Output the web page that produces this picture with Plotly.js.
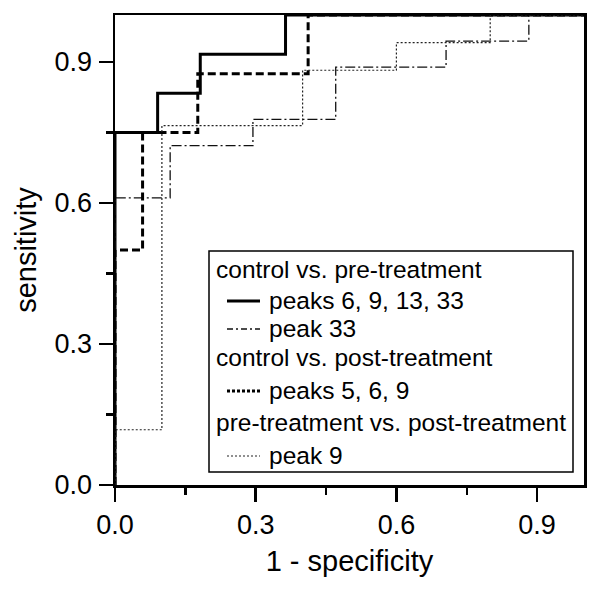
<!DOCTYPE html>
<html>
<head>
<meta charset="utf-8">
<script src="https://cdn.plot.ly/plotly-3.0.1.min.js"></script>
<style>html,body{margin:0;padding:0;background:#fff;}#chart{width:600px;height:589px;}</style>
</head>
<body>
<div id="chart"></div>
<script>
// ROC step breakpoints (drawn with 'hv' steps)
const preSolidX = [0, 0, 0.0909, 0.1818, 0.3636, 1];
const preSolidY = [0, 0.75, 0.8333, 0.9167, 1, 1];
const pre33X = [0, 0, 0.1176, 0.2941, 0.4706, 0.7059, 0.8824, 1];
const pre33Y = [0, 0.6111, 0.7222, 0.7778, 0.8889, 0.9444, 1, 1];
const postX = [0, 0, 0.0588, 0.1765, 0.4118, 1];
const postY = [0, 0.5, 0.75, 0.875, 1, 1];
const prePostX = [0, 0, 0.1, 0.4, 0.6, 0.8, 1];
const prePostY = [0, 0.1176, 0.7647, 0.8824, 0.9412, 1, 1];
const xTicks = [0, 0.3, 0.6, 0.9];
const yTicks = [0, 0.3, 0.6, 0.9];
const groupTitles = ['control vs. pre-treatment', 'control vs. post-treatment', 'pre-treatment vs. post-treatment'];
const seriesNames = ['peaks 6, 9, 13, 33', 'peak 33', 'peaks 5, 6, 9', 'peak 9'];

const FONT = '"Liberation Sans", Arial, sans-serif';
const styles = [
  {color: '#000', width: 3},
  {color: '#111', width: 1.3, dash: '10px,3px,2px,3px'},
  {color: '#000', width: 3, dash: '8px,4px'},
  {color: '#222', width: 1.2, dash: '2px,2px'}
];
const xs = [preSolidX, pre33X, postX, prePostX];
const ys = [preSolidY, pre33Y, postY, prePostY];
const traces = xs.map((x, i) => ({
  x: x, y: ys[i], mode: 'lines', name: seriesNames[i], showlegend: false,
  line: Object.assign({shape: 'hv'}, styles[i])
}));

// manual legend (paper coordinates)
const legendStyles = [
  {color: '#000', width: 3},
  {color: '#111', width: 1.3, dash: '6px,3px,2px,3px'},
  {color: '#000', width: 3, dash: '3px,2px'},
  {color: '#222', width: 1.2, dash: '2px,2px'}
];
const PX = px => (px - 115) / 469;
const PY = py => (485 - py) / 470;
const shapes = [{type: 'rect', xref: 'paper', yref: 'paper', x0: PX(209), x1: PX(573), y0: PY(472), y1: PY(251),
  line: {color: '#000', width: 1.5}, fillcolor: '#fff', layer: 'above'}];
const annotations = [];
const titleRows = [269, 357, 422];
const itemRows = [300, 328, 390, 455];
const LFS = 24.5;
groupTitles.forEach((t, i) => annotations.push({xref: 'paper', yref: 'paper', x: PX(214), y: PY(titleRows[i]),
  xanchor: 'left', yanchor: 'middle', text: t, showarrow: false, font: {family: FONT, size: LFS, color: '#000'}}));
seriesNames.forEach((t, i) => {
  annotations.push({xref: 'paper', yref: 'paper', x: PX(267), y: PY(itemRows[i]),
    xanchor: 'left', yanchor: 'middle', text: t, showarrow: false, font: {family: FONT, size: LFS, color: '#000'}});
  shapes.push({type: 'line', xref: 'paper', yref: 'paper', x0: PX(227), x1: PX(260), y0: PY(itemRows[i] + 1), y1: PY(itemRows[i] + 1),
    line: legendStyles[i], layer: 'above'});
});

const axisCommon = {
  range: [0, 1], showgrid: false, zeroline: false, showline: true, mirror: true,
  linecolor: '#000', linewidth: 2.5, ticks: 'outside', ticklen: 14, tickwidth: 2.5, tickcolor: '#000',
  tickmode: 'array', tickformat: '.1f', tickfont: {family: FONT, size: 27, color: '#000'},
  minor: {ticks: 'outside', ticklen: 7, tickwidth: 2.5, tickcolor: '#000', dtick: 0.15, tick0: 0, showgrid: false}
};

const layout = {
  width: 600, height: 589,
  margin: {l: 115, r: 16, t: 15, b: 104},
  paper_bgcolor: '#fff', plot_bgcolor: '#fff',
  font: {family: FONT, color: '#000'},
  showlegend: false,
  shapes: shapes,
  annotations: annotations,
  xaxis: Object.assign({}, axisCommon, {tickvals: xTicks,
    title: {text: '1 - specificity', font: {family: FONT, size: 29, color: '#000'}, standoff: 12}}),
  yaxis: Object.assign({}, axisCommon, {tickvals: yTicks, ticklabelstandoff: 1,
    title: {text: 'sensitivity', font: {family: FONT, size: 29, color: '#000'}, standoff: 10}})
};

Plotly.newPlot('chart', traces, layout, {displayModeBar: false, staticPlot: true});
</script>
</body>
</html>
